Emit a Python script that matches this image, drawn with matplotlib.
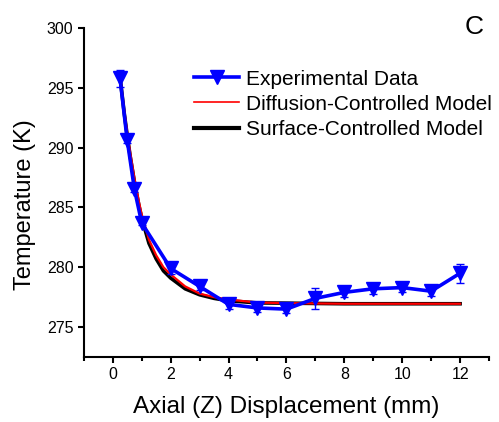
import numpy as np
import matplotlib.pyplot as plt
from matplotlib.lines import Line2D

plt.rcParams['font.family'] = ['Liberation Sans', 'DejaVu Sans']

z_exp = [0.25, 0.5, 0.75, 1, 2, 3, 4, 5, 6, 7, 8, 9, 10, 11, 12]
T_exp = [295.8, 290.6, 286.5, 283.7, 279.9, 278.4, 276.9, 276.6, 276.5,
         277.4, 277.9, 278.2, 278.3, 278.0, 279.5]
T_err = [0.7, 0.2, 0.2, 0.2, 0.5, 0.3, 0.4, 0.3, 0.3,
         0.9, 0.4, 0.4, 0.4, 0.4, 0.8]

# Model curves
z_mod = [0.25, 0.4, 0.5, 0.6, 0.75, 0.9, 1.0, 1.25, 1.5, 1.75, 2.0, 2.5,
         3.0, 3.5, 4.0, 5.0, 6.0, 8.0, 10.0, 12.0]
T_diff = [295.9, 293.0, 291.2, 289.6, 287.4, 285.5, 284.4, 282.3, 281.0,
          280.0, 279.4, 278.4, 277.8, 277.5, 277.3, 277.05, 277.0, 276.95,
          276.95, 276.95]
T_surf = [295.9, 292.8, 291.0, 289.3, 287.1, 285.2, 284.1, 282.0, 280.7,
          279.7, 279.1, 278.2, 277.7, 277.4, 277.2, 277.02, 277.0, 276.95,
          276.95, 276.95]

fig = plt.figure(figsize=(4.99, 4.22), dpi=100)
ax = fig.add_axes([0.168, 0.154, 0.812, 0.780])

ax.plot(z_mod, T_surf, color='black', lw=2.6, zorder=2)
ax.plot(z_mod, T_diff, color='red', lw=1.6, zorder=3)
ax.errorbar(z_exp, T_exp, yerr=T_err, color='blue', lw=2.6, marker='v',
            markersize=10, capsize=3, elinewidth=1, capthick=1, zorder=4)

ax.set_xlim(-1, 13)
ax.set_ylim(272.5, 300)
ax.set_xticks([0, 2, 4, 6, 8, 10, 12])
ax.set_xticks([-1, 1, 3, 5, 7, 9, 11, 13], minor=True)
ax.set_yticks([275, 280, 285, 290, 295, 300])
ax.spines['top'].set_visible(False)
ax.spines['right'].set_visible(False)
for s in ['left', 'bottom']:
    ax.spines[s].set_linewidth(1.5)
ax.tick_params(which='major', length=4.5, width=1.5, labelsize=11.5, pad=3)
ax.tick_params(which='minor', length=3, width=1.5)

ax.set_xlabel('Axial (Z) Displacement (mm)', fontsize=17.5, labelpad=10)
ax.set_ylabel('Temperature (K)', fontsize=17)
ax.yaxis.set_label_coords(-0.118, 0.462)

handles = [
    Line2D([], [], color='blue', lw=2.6, marker='v', markersize=10),
    Line2D([], [], color='red', lw=1.2),
    Line2D([], [], color='black', lw=3),
]
labels = ['Experimental Data', 'Diffusion-Controlled Model', 'Surface-Controlled Model']
ax.legend(handles, labels, loc='upper left', bbox_to_anchor=(0.373, 0.855),
          bbox_transform=fig.transFigure, frameon=False, fontsize=15,
          handlelength=2.15, labelspacing=0.3, handletextpad=0.3, borderaxespad=0)

fig.text(0.951, 0.935, 'C', fontsize=19, ha='center', va='center')

fig.savefig('out.png', dpi=100)
